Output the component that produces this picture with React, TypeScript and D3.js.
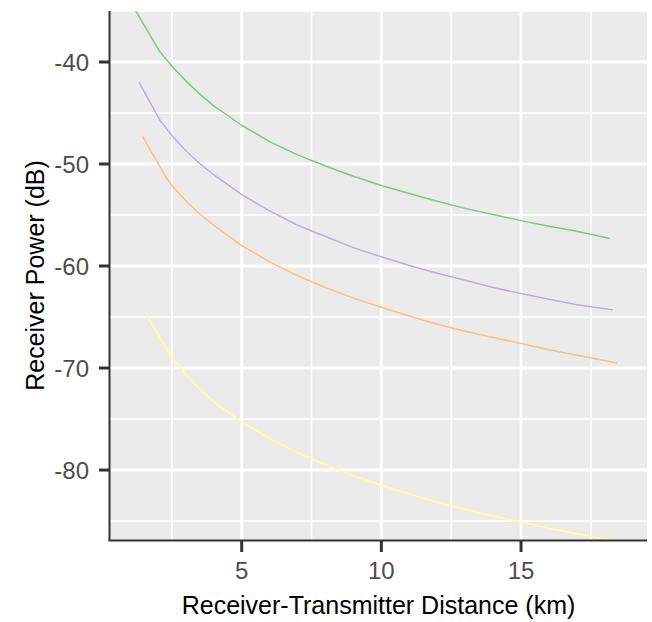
import React from "react";
import * as d3 from "d3";

const seriesNames = ["green", "purple", "orange", "yellow"];
const seriesColors = ["#7fc97f", "#beaed4", "#fdc086", "#ffff99"];

const greenX = [1.21, 2.07, 2.5, 3, 3.5, 4, 5, 6, 7, 8, 9, 10, 11, 12, 13, 14, 15, 16, 17, 18.18];
const greenY = [-35.0, -39.0, -40.4, -41.85, -43.15, -44.3, -46.2, -47.8, -49.1, -50.2, -51.2, -52.1, -52.9, -53.65, -54.35, -54.95, -55.55, -56.1, -56.6, -57.3];

const purpleX = [1.33, 2.07, 2.5, 3, 3.5, 4, 5, 6, 7, 8, 9, 10, 11, 12, 13, 14, 15, 16, 17, 18.29];
const purpleY = [-42.0, -45.7, -47.2, -48.7, -49.95, -51.05, -53.0, -54.6, -56.0, -57.1, -58.2, -59.1, -59.95, -60.7, -61.4, -62.1, -62.7, -63.25, -63.8, -64.3];

const orangeX = [1.45, 2.31, 2.5, 3, 3.5, 4, 5, 6, 7, 8, 9, 10, 11, 12, 13, 14, 15, 16, 17, 18.44];
const orangeY = [-47.3, -51.4, -52.1, -53.6, -54.9, -56.0, -58.0, -59.6, -60.95, -62.1, -63.15, -64.05, -64.9, -65.7, -66.4, -67.0, -67.6, -68.2, -68.75, -69.5];

const yellowX = [1.59, 2.31, 2.5, 3, 3.5, 4, 5, 6, 7, 8, 9, 10, 11, 12, 13, 14, 15, 16, 17, 18.53];
const yellowY = [-64.8, -68.1, -69.0, -70.65, -72.05, -73.3, -75.3, -76.9, -78.3, -79.5, -80.55, -81.5, -82.35, -83.15, -83.85, -84.5, -85.1, -85.7, -86.25, -87.0];

const xMajorTicks = [5, 10, 15];
const xMinorTicks = [2.5, 7.5, 12.5, 17.5];
const yMajorTicks = [-40, -50, -60, -70, -80];
const yMinorTicks = [-35, -45, -55, -65, -75, -85];

const xTitle = "Receiver-Transmitter Distance (km)";
const yTitle = "Receiver Power (dB)";

const W = 652;
const H = 622;
const panel = { left: 110, right: 647, top: 11, bottom: 540 };

export default function App() {
  const x = d3.scaleLinear().domain([0.285, 19.51]).range([panel.left, panel.right]);
  const y = d3.scaleLinear().domain([-86.86, -35.0]).range([panel.bottom, panel.top]);

  const allX = [greenX, purpleX, orangeX, yellowX];
  const allY = [greenY, purpleY, orangeY, yellowY];
  const series = seriesNames.map((name, i) => ({
    name,
    color: seriesColors[i],
    pts: allX[i].map((v, j) => [v, allY[i][j]] as [number, number]),
  }));

  const line = d3
    .line<[number, number]>()
    .x((d) => x(d[0]))
    .y((d) => y(d[1]));

  const font = "'Liberation Sans', Arial, Helvetica, sans-serif";
  const axisColor = "#333333";

  return (
    <svg
      width={W}
      height={H}
      style={{ position: "fixed", left: 0, top: 0, background: "#ffffff" }}
      fontFamily={font}
    >
      <defs>
        <clipPath id="panelClip">
          <rect
            x={panel.left}
            y={panel.top}
            width={panel.right - panel.left}
            height={panel.bottom - panel.top}
          />
        </clipPath>
      </defs>
      <rect
        x={panel.left}
        y={panel.top}
        width={panel.right - panel.left}
        height={panel.bottom - panel.top}
        fill="#ebebeb"
      />
      <g clipPath="url(#panelClip)">
        {yMinorTicks.map((t) => (
          <line key={"ym" + t} x1={panel.left} x2={panel.right} y1={y(t)} y2={y(t)} stroke="#ffffff" strokeWidth={1.6} />
        ))}
        {xMinorTicks.map((t) => (
          <line key={"xm" + t} x1={x(t)} x2={x(t)} y1={panel.top} y2={panel.bottom} stroke="#ffffff" strokeWidth={1.6} />
        ))}
        {yMajorTicks.map((t) => (
          <line key={"yM" + t} x1={panel.left} x2={panel.right} y1={y(t)} y2={y(t)} stroke="#ffffff" strokeWidth={2.8} />
        ))}
        {xMajorTicks.map((t) => (
          <line key={"xM" + t} x1={x(t)} x2={x(t)} y1={panel.top} y2={panel.bottom} stroke="#ffffff" strokeWidth={2.8} />
        ))}
        {series.map((s) => (
          <path key={s.name} d={line(s.pts) || ""} fill="none" stroke={s.color} strokeWidth={1.5} strokeLinejoin="round" />
        ))}
      </g>
      <line x1={panel.left - 0.5} x2={panel.left - 0.5} y1={panel.top} y2={panel.bottom + 1} stroke={axisColor} strokeWidth={2} />
      <line x1={panel.left - 1.5} x2={panel.right} y1={panel.bottom + 0.5} y2={panel.bottom + 0.5} stroke={axisColor} strokeWidth={2} />
      {yMajorTicks.map((t) => (
        <g key={"yt" + t}>
          <line x1={panel.left - 11} x2={panel.left} y1={y(t)} y2={y(t)} stroke={axisColor} strokeWidth={3} />
          <text x={89} y={y(t)} dy="0.36em" textAnchor="end" fontSize={24} fill="#4d4d4d">
            {String(t)}
          </text>
        </g>
      ))}
      {xMajorTicks.map((t) => (
        <g key={"xt" + t}>
          <line x1={x(t)} x2={x(t)} y1={panel.bottom} y2={panel.bottom + 12} stroke={axisColor} strokeWidth={3} />
          <text x={x(t)} y={578.5} textAnchor="middle" fontSize={24} fill="#4d4d4d">
            {String(t)}
          </text>
        </g>
      ))}
      <text x={(panel.left + panel.right) / 2} y={613.5} textAnchor="middle" fontSize={25} fill="#000000">
        {xTitle}
      </text>
      <text
        transform={`translate(44, ${(panel.top + panel.bottom) / 2}) rotate(-90)`}
        textAnchor="middle"
        fontSize={25}
        fill="#000000"
      >
        {yTitle}
      </text>
    </svg>
  );
}
